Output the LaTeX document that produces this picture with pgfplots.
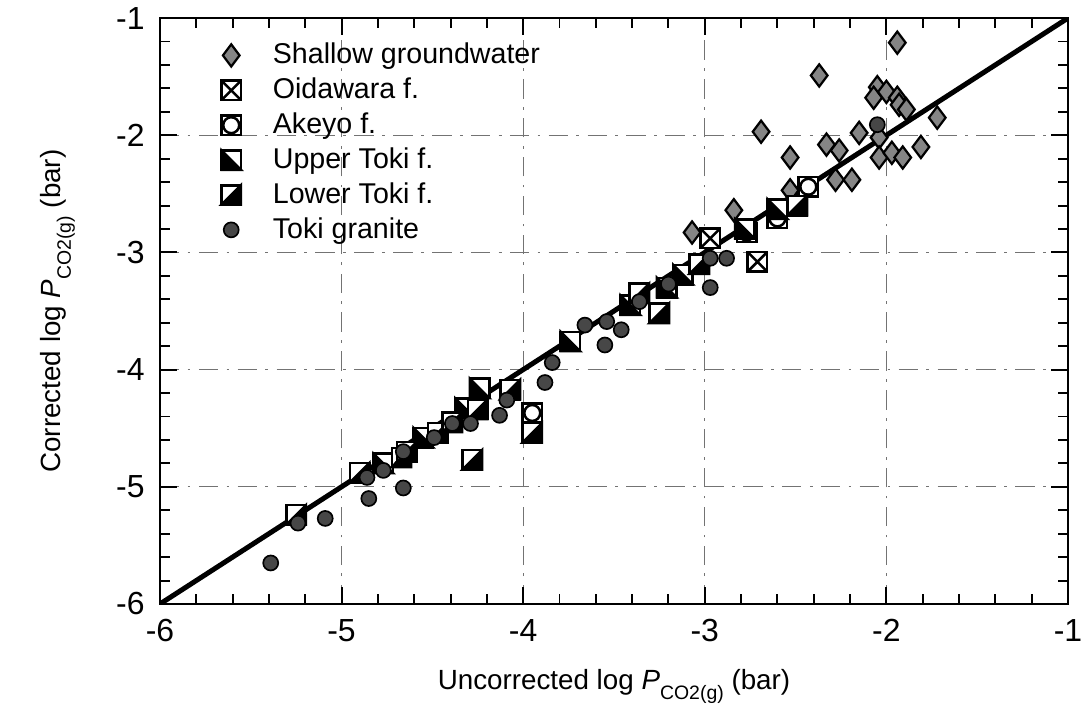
\documentclass[border=0pt]{standalone}
\usepackage{pgfplots}
\pgfplotsset{compat=1.18}
\usepackage{fontspec}
\setmainfont{Liberation Sans}

\definecolor{shallowgray}{gray}{0.52}
\definecolor{granitegray}{gray}{0.28}

% square with a cross (Oidawara f.)
\pgfdeclareplotmark{boxcross}{%
  \pgfpathrectangle{\pgfpoint{-\pgfplotmarksize}{-\pgfplotmarksize}}{\pgfpoint{2\pgfplotmarksize}{2\pgfplotmarksize}}%
  \pgfusepathqfillstroke
  \pgfpathmoveto{\pgfpoint{-\pgfplotmarksize}{-\pgfplotmarksize}}%
  \pgfpathlineto{\pgfpoint{\pgfplotmarksize}{\pgfplotmarksize}}%
  \pgfpathmoveto{\pgfpoint{-\pgfplotmarksize}{\pgfplotmarksize}}%
  \pgfpathlineto{\pgfpoint{\pgfplotmarksize}{-\pgfplotmarksize}}%
  \pgfusepathqstroke}
% square with an inscribed circle (Akeyo f.)
\pgfdeclareplotmark{boxcircle}{%
  \pgfpathrectangle{\pgfpoint{-\pgfplotmarksize}{-\pgfplotmarksize}}{\pgfpoint{2\pgfplotmarksize}{2\pgfplotmarksize}}%
  \pgfusepathqfillstroke
  \pgfpathcircle{\pgfpointorigin}{0.82\pgfplotmarksize}%
  \pgfusepathqstroke}
% square, black lower-left half (Upper Toki f.)
\pgfdeclareplotmark{boxupper}{%
  \pgfpathrectangle{\pgfpoint{-\pgfplotmarksize}{-\pgfplotmarksize}}{\pgfpoint{2\pgfplotmarksize}{2\pgfplotmarksize}}%
  \pgfusepathqfillstroke
  \begin{pgfscope}\pgfsetfillcolor{black}%
  \pgfpathmoveto{\pgfpoint{-\pgfplotmarksize}{\pgfplotmarksize}}%
  \pgfpathlineto{\pgfpoint{-\pgfplotmarksize}{-\pgfplotmarksize}}%
  \pgfpathlineto{\pgfpoint{\pgfplotmarksize}{-\pgfplotmarksize}}%
  \pgfpathclose\pgfusepathqfillstroke\end{pgfscope}}
% square, black lower-right half (Lower Toki f.)
\pgfdeclareplotmark{boxlower}{%
  \pgfpathrectangle{\pgfpoint{-\pgfplotmarksize}{-\pgfplotmarksize}}{\pgfpoint{2\pgfplotmarksize}{2\pgfplotmarksize}}%
  \pgfusepathqfillstroke
  \begin{pgfscope}\pgfsetfillcolor{black}%
  \pgfpathmoveto{\pgfpoint{-\pgfplotmarksize}{-\pgfplotmarksize}}%
  \pgfpathlineto{\pgfpoint{\pgfplotmarksize}{-\pgfplotmarksize}}%
  \pgfpathlineto{\pgfpoint{\pgfplotmarksize}{\pgfplotmarksize}}%
  \pgfpathclose\pgfusepathqfillstroke\end{pgfscope}}

\pgfplotstableread{
x y
-1.94 -1.21
-2.37 -1.49
-2.05 -1.59
-2.07 -1.68
-2.00 -1.63
-1.94 -1.68
-1.93 -1.74
-1.89 -1.78
-2.69 -1.97
-2.53 -2.19
-2.15 -1.98
-2.04 -2.02
-2.33 -2.08
-2.26 -2.13
-1.81 -2.10
-1.72 -1.85
-2.04 -2.19
-1.97 -2.15
-1.91 -2.19
-2.28 -2.38
-2.19 -2.38
-2.53 -2.47
-2.84 -2.64
-3.07 -2.83
}\shallow

\pgfplotstableread{
x y
-2.97 -2.88
-2.71 -3.08
}\oidawara

\pgfplotstableread{
x y
-2.43 -2.44
-2.77 -2.83
-2.60 -2.71
-3.95 -4.37
}\akeyo

\pgfplotstableread{
x y
-3.74 -3.76
-3.41 -3.45
-3.21 -3.30
-3.12 -3.19
-2.78 -2.80
-2.60 -2.63
-4.24 -4.16
-4.55 -4.58
-4.77 -4.80
-4.32 -4.33
}\uppertoki

\pgfplotstableread{
x y
-5.25 -5.24
-4.90 -4.88
-4.67 -4.75
-4.64 -4.70
-4.47 -4.54
-4.39 -4.45
-4.25 -4.34
-4.07 -4.17
-4.28 -4.77
-3.95 -4.54
-3.36 -3.35
-3.25 -3.52
-3.03 -3.10
-2.49 -2.60
}\lowertoki

\pgfplotstableread{
x y
-5.39 -5.65
-5.24 -5.31
-5.09 -5.27
-4.85 -5.10
-4.66 -5.01
-4.86 -4.92
-4.77 -4.86
-4.66 -4.70
-4.49 -4.58
-4.39 -4.46
-4.29 -4.46
-4.13 -4.39
-4.09 -4.26
-3.88 -4.11
-3.84 -3.94
-3.66 -3.62
-3.54 -3.59
-3.46 -3.66
-3.55 -3.79
-3.36 -3.42
-3.20 -3.27
-2.97 -3.30
-2.88 -3.05
-2.97 -3.05
-2.05 -1.91
}\granite

\begin{document}
\begin{tikzpicture}
\begin{axis}[
  scale only axis,
  width=327pt, height=211pt,
  xmin=-6, xmax=-1, ymin=-6, ymax=-1,
  xtick={-6,-5,...,-1}, ytick={-6,-5,...,-1},
  xticklabels={-6,-5,-4,-3,-2,-1},
  yticklabels={-6,-5,-4,-3,-2,-1},
  minor tick num=4,
  tick align=inside,
  major tick length=6pt, minor tick length=3.6pt,
  every tick/.style={black, line width=0.7pt},
  axis line style={line width=0.9pt},
  tick label style={font=\fontsize{11.5}{13}\selectfont},
  xticklabel style={yshift=-2pt},
  yticklabel style={xshift=-2pt},
  grid=major,
  major grid style={black!55, line width=0.4pt, dash pattern=on 7pt off 3pt on 1pt off 3pt},
  label style={font=\fontsize{10}{12}\selectfont},
  xlabel={Uncorrected log \textit{P}\raisebox{-0.7ex}{\fontsize{7}{8}\selectfont CO2(g)} (bar)},
  ylabel={Corrected log \textit{P}\raisebox{-0.7ex}{\fontsize{7}{8}\selectfont CO2(g)} (bar)},
  xlabel style={yshift=-3pt},
  ylabel style={yshift=8pt},
  legend style={draw=none, fill=none, at={(0.058,0.975)}, anchor=north west,
    font=\fontsize{10.3}{12}\selectfont, row sep=0.6pt, column sep=10pt,
    nodes={inner sep=1.5pt}},
  legend cell align=left,
]
\addplot[black, line width=1.8pt, forget plot] coordinates {(-6,-6) (-1,-1)};
\addplot[only marks, mark=diamond*, mark size=4pt, draw=black, fill=shallowgray, line width=0.8pt] table {\shallow};
\addlegendentry{Shallow groundwater}
\addplot[only marks, mark=boxcross, mark size=3.5pt, draw=black, fill=white, line width=0.9pt] table {\oidawara};
\addlegendentry{Oidawara f.}
\addplot[only marks, mark=boxcircle, mark size=3.5pt, draw=black, fill=white, line width=0.9pt] table {\akeyo};
\addlegendentry{Akeyo f.}
\addplot[only marks, mark=boxupper, mark size=3.5pt, draw=black, fill=white, line width=0.9pt] table {\uppertoki};
\addlegendentry{Upper Toki f.}
\addplot[only marks, mark=boxlower, mark size=3.5pt, draw=black, fill=white, line width=0.9pt] table {\lowertoki};
\addlegendentry{Lower Toki f.}
\addplot[only marks, mark=*, mark size=2.7pt, draw=black, fill=granitegray, line width=0.6pt] table {\granite};
\addlegendentry{Toki granite}
\coordinate (sw) at (rel axis cs:0,0);
\coordinate (ne) at (rel axis cs:1,1);
\end{axis}
\pgfresetboundingbox
\path[use as bounding box] ([shift={(-57.6pt,-42.5pt)}]sw) rectangle ([shift={(5.4pt,6.5pt)}]ne);
\end{tikzpicture}
\end{document}
